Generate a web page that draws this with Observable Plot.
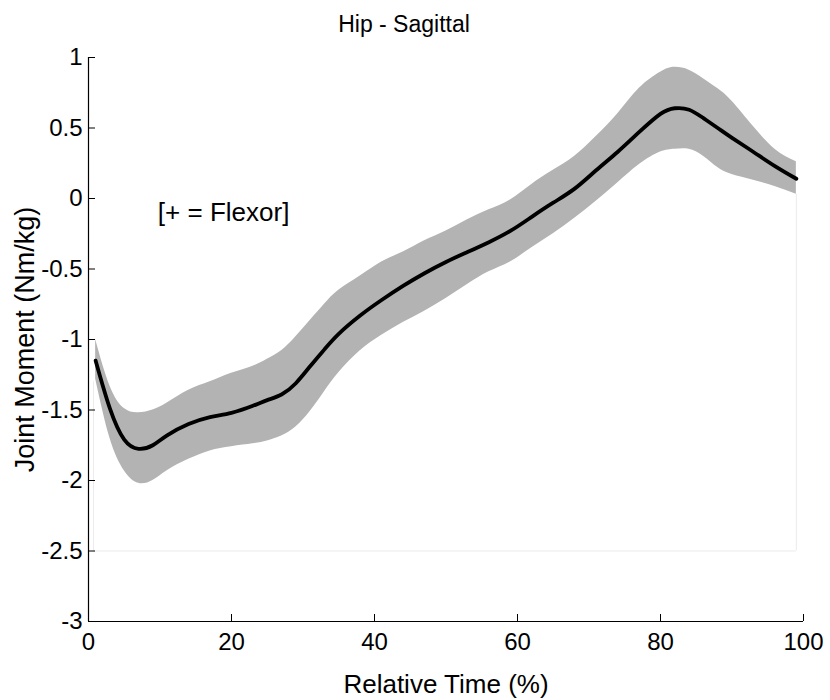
<!DOCTYPE html>
<html><head><meta charset="utf-8">
<script src="https://cdn.jsdelivr.net/npm/d3@7"></script>
<script src="https://cdn.jsdelivr.net/npm/@observablehq/plot@0.6"></script>
<style>body{margin:0;background:#fff}</style>
</head><body><div id="chart"></div>
<script>
const time  = [1, 3, 5, 7, 9, 11, 14, 17, 20, 23, 25, 27, 29, 31, 33, 35, 38, 41, 44, 47, 50, 53, 56, 59, 62, 65, 68, 71, 74, 77, 80, 82, 84, 86, 88, 90, 93, 96, 99];
const mean  = [-1.15, -1.49, -1.71, -1.775, -1.75, -1.68, -1.60, -1.55, -1.52, -1.47, -1.43, -1.39, -1.31, -1.19, -1.07, -0.96, -0.83, -0.72, -0.62, -0.53, -0.45, -0.38, -0.31, -0.23, -0.13, -0.03, 0.07, 0.20, 0.33, 0.47, 0.60, 0.64, 0.63, 0.57, 0.50, 0.43, 0.33, 0.23, 0.14];
const upper = [-1.00, -1.33, -1.49, -1.52, -1.50, -1.45, -1.36, -1.30, -1.24, -1.19, -1.14, -1.08, -0.98, -0.865, -0.75, -0.65, -0.55, -0.45, -0.38, -0.30, -0.23, -0.15, -0.08, -0.01, 0.10, 0.20, 0.30, 0.44, 0.60, 0.78, 0.896, 0.93, 0.91, 0.85, 0.78, 0.69, 0.51, 0.35, 0.26];
const lower = [-1.28, -1.70, -1.93, -2.02, -2.00, -1.93, -1.85, -1.79, -1.76, -1.74, -1.72, -1.685, -1.62, -1.51, -1.37, -1.235, -1.08, -0.97, -0.88, -0.80, -0.71, -0.61, -0.52, -0.45, -0.35, -0.25, -0.14, -0.02, 0.11, 0.24, 0.33, 0.35, 0.35, 0.30, 0.22, 0.17, 0.13, 0.085, 0.03];
const xTicks = [0, 20, 40, 60, 80, 100];
const yTicks = [-3, -2.5, -2, -1.5, -1, -0.5, 0, 0.5, 1];
const titleText = "Hip - Sagittal";
const xLabel = "Relative Time (%)";
const yLabel = "Joint Moment (Nm/kg)";
const note = "[+ = Flexor]";

const rows = time.map((t, i) => ({t, m: mean[i], hi: upper[i], lo: lower[i]}));
const font = "'Liberation Sans', Arial, Helvetica, sans-serif";

const chart = Plot.plot({
  width: 830, height: 700,
  marginLeft: 88, marginRight: 27, marginTop: 57, marginBottom: 79,
  style: {fontFamily: font, fontSize: "24px", color: "#000", background: "#fff", overflow: "visible"},
  x: {domain: [0, 100]},
  y: {domain: [-3, 1]},
  marks: [
    Plot.ruleY([-2.5], {x1: 0.7, x2: 99, stroke: "#ebebeb", strokeWidth: 1}),
    Plot.ruleX([0.7], {y1: -2.5, y2: -1.3, stroke: "#ebebeb", strokeWidth: 1}),
    Plot.ruleX([99], {y1: -2.5, y2: 0.03, stroke: "#ebebeb", strokeWidth: 1}),
    Plot.areaY(rows, {x: "t", y1: "lo", y2: "hi", fill: "#b3b3b3", curve: "natural"}),
    Plot.lineY(rows, {x: "t", y: "m", stroke: "#000", strokeWidth: 3.8, curve: "natural"}),
    Plot.ruleX([0], {stroke: "#000", strokeWidth: 1.2}),
    Plot.ruleY([-3], {stroke: "#000", strokeWidth: 1.2}),
    Plot.axisX({ticks: xTicks, tickSize: -7, tickPadding: 18, label: null, fontSize: 24, tickFormat: d => String(d)}),
    Plot.axisY({ticks: yTicks, tickSize: -7, tickPadding: 13, label: null, fontSize: 24, tickFormat: d => String(d)}),
    Plot.text([note], {x: 9.7, y: -0.1, text: d => d, textAnchor: "start", lineAnchor: "middle", fontSize: 26}),
    Plot.text([xLabel], {frameAnchor: "bottom", dy: 63, text: d => d, textAnchor: "middle", lineAnchor: "middle", fontSize: 26}),
    Plot.text([yLabel], {frameAnchor: "left", dx: -63, rotate: -90, text: d => d, textAnchor: "middle", lineAnchor: "middle", fontSize: 27}),
    Plot.text([titleText], {frameAnchor: "top", dx: -42, dy: -33, text: d => d, textAnchor: "middle", lineAnchor: "middle", fontSize: 23})
  ]
});
document.getElementById("chart").appendChild(chart);
</script>
</body></html>
